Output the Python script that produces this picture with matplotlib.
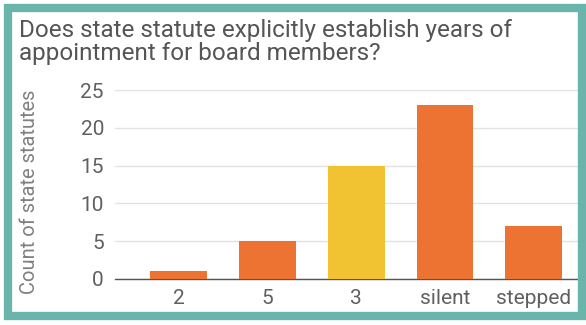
import matplotlib.pyplot as plt
from matplotlib.patches import Rectangle

categories = ["2", "5", "3", "silent", "stepped"]
counts = [1, 5, 15, 23, 7]
bar_colors = ["#ec7331", "#ec7331", "#f1c232", "#ec7331", "#ec7331"]
y_ticks = [0, 5, 10, 15, 20, 25]

plt.rcParams['font.family'] = ['Roboto', 'DejaVu Sans']

fig = plt.figure(figsize=(5.86, 3.25), dpi=100)
fig.patch.set_facecolor("white")

# teal frame around the whole card
fig.patches.append(Rectangle((8 / 586, 9 / 325), 574 / 586, 308 / 325,
                             transform=fig.transFigure, fill=False,
                             edgecolor="#69b5ac", linewidth=6))

ax = fig.add_axes([115 / 586, 46 / 325, 463 / 586, 189 / 325])
x = range(len(categories))
ax.bar(x, counts, width=0.64, color=bar_colors, zorder=3)

ax.set_ylim(0, 25)
ax.set_xlim(-0.72, 4.5)
ax.set_yticks(y_ticks)
ax.set_xticks(list(x))
ax.set_xticklabels(categories)
ax.grid(axis="y", color="#e3e3e3", linewidth=1, zorder=0)
for s in ["top", "right", "left"]:
    ax.spines[s].set_visible(False)
ax.spines["bottom"].set_color("#555555")
ax.spines["bottom"].set_linewidth(1)
ax.tick_params(length=0, labelsize=15, colors="#606060", pad=7)
ax.tick_params(axis="y", pad=8)

fig.text(30 / 586, 133 / 325, "Count of state statutes", rotation=90,
         ha="center", va="center", fontsize=14.5, color="#808080")
fig.text(19 / 586, 1 - 19 / 325,
         "Does state statute explicitly establish years of\nappointment for board members?",
         ha="left", va="top", fontsize=17.5, color="#555555", linespacing=0.98)

fig.savefig("out.png", dpi=100)
